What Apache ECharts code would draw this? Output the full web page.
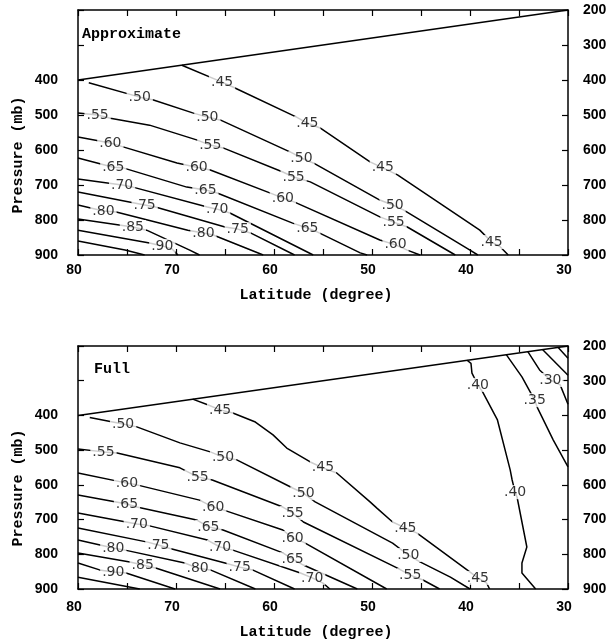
<!DOCTYPE html>
<html><head><meta charset="utf-8">
<script src="https://cdn.jsdelivr.net/npm/echarts@6/dist/echarts.min.js"></script>
<style>html,body{margin:0;padding:0;background:#fff}#c{width:611px;height:642px}</style>
</head><body><div id="c"></div>
<script>
// Tick labels
const xTickLabels = [80, 70, 60, 50, 40, 30];
const yLeftTickLabels = [400, 500, 600, 700, 800, 900];
const yRightTickLabels = [200, 300, 400, 500, 600, 700, 800, 900];
const panelTitles = ['Approximate', 'Full'];

// Upper boundary (tropopause) [latitude, pressure]
const tropopause = [[80, 400], [30, 200]];

// ---- Approximate panel contours [latitude, pressure]
const ap45 = [[69.4,358],[65.3,406],[64.2,420],[57.7,506],[56.6,523],[55.3,537],[50.2,634],[48.9,651],[47.4,671],[39.0,829],[37.8,863],[36.9,877],[36.1,900]];
const ap50 = [[78.9,408],[73.7,449],[72.3,457],[68.3,494],[66.8,506],[65.5,514],[58.1,609],[57.2,623],[56.0,637],[49.2,743],[47.9,757],[46.8,771],[40.0,886],[39.2,900]];
const ap55 = [[80,494],[78.0,500],[76.7,509],[72.7,529],[67.9,571],[66.5,586],[65.2,594],[59.1,663],[58.0,677],[56.3,691],[49.2,791],[47.8,806],[46.4,820],[41.5,900]];
const ap60 = [[80,563],[76.7,580],[75.4,591],[69.9,637],[67.9,649],[66.5,657],[60.1,726],[59.1,737],[57.9,749],[49.2,857],[47.6,871],[46.4,886],[45.1,900]];
const ap65 = [[80,623],[76.4,649],[75.4,651],[68.9,706],[67.0,714],[65.8,723],[58.1,809],[56.6,823],[55.6,834],[51.2,894],[50.5,900]];
const ap70 = [[80,683],[75.5,700],[74.4,706],[66.8,763],[65.8,769],[64.5,780],[56.0,900]];
const ap75 = [[80,720],[73.2,757],[72.1,763],[65.0,820],[63.7,826],[62.4,837],[57.9,900]];
const ap80 = [[80,757],[77.4,774],[76.1,777],[68.8,829],[67.2,837],[66.2,843],[61.1,900]];
const ap85 = [[80,797],[74.4,820],[73.0,829],[68.6,886],[67.6,900]];
const ap90 = [[80,829],[72.7,866],[71.4,874],[70.4,883],[69.8,900]];
const ap95 = [[80,860],[75.2,886],[73.2,900]];
const approxLabels = [
  [65.3,406,'.45'],[56.6,523,'.45'],[48.9,651,'.45'],[37.8,863,'.45'],
  [73.7,449,'.50'],[66.8,506,'.50'],[57.2,623,'.50'],[47.9,757,'.50'],
  [78.0,500,'.55'],[66.5,586,'.55'],[58.0,677,'.55'],[47.8,806,'.55'],
  [76.7,580,'.60'],[67.9,649,'.60'],[59.1,737,'.60'],[47.6,871,'.60'],
  [76.4,649,'.65'],[67.0,714,'.65'],[56.6,823,'.65'],
  [75.5,700,'.70'],[65.8,769,'.70'],
  [73.2,757,'.75'],[63.7,826,'.75'],
  [77.4,774,'.80'],[67.2,837,'.80'],
  [74.4,820,'.85'],
  [71.4,874,'.90']
];

// ---- Full panel contours [latitude, pressure]
const fu45 = [[68.3,353],[66.7,370],[65.5,384],[64.2,393],[61.9,419],[60.1,456],[58.7,494],[56.3,534],[55.0,551],[53.6,566],[50.2,649],[49.5,667],[47.9,707],[46.6,724],[45.4,739],[40.3,845],[39.2,868],[38.3,883],[38.0,900]];
const fu50 = [[78.8,406],[75.4,425],[74.0,433],[69.6,479],[66.5,505],[65.2,520],[63.8,528],[58.1,609],[57.0,624],[55.8,649],[47.9,768],[46.3,802],[45.1,822],[42.0,866],[40.0,900]];
const fu55 = [[80,497],[77.4,505],[76.0,508],[69.6,551],[67.8,577],[66.3,586],[59.1,664],[58.1,681],[57.0,707],[47.4,840],[46.1,860],[44.8,874],[43.1,900]];
const fu60 = [[80,566],[75.0,595],[74.0,600],[67.6,644],[66.2,664],[65.2,672],[59.1,730],[58.1,753],[57.0,765],[48.5,900]];
const fu65 = [[80,629],[75.0,655],[74.0,664],[67.9,701],[66.7,721],[65.2,730],[59.1,796],[58.1,814],[57.0,831],[51.5,900]];
const fu70 = [[80,681],[74.0,713],[73.0,716],[66.8,759],[65.5,779],[64.2,788],[57.3,854],[56.1,868],[55.0,883],[54.3,900]];
const fu75 = [[80,724],[72.9,765],[71.8,773],[70.8,782],[65.0,825],[63.5,837],[62.2,845],[57.9,900]];
const fu80 = [[80,759],[76.4,782],[75.2,788],[69.1,825],[67.8,840],[66.5,845],[61.9,900]];
const fu85 = [[80,796],[74.7,822],[73.4,831],[72.0,840],[65.5,900]];
const fu90 = [[80,825],[77.8,845],[76.4,851],[75.1,854],[70.1,900]];
const fu95 = [[80,866],[73.7,900]];
const fu40 = [[40.3,241],[39.9,250],[39.8,278],[39.2,312],[38.7,333],[37.2,413],[35.9,557],[35.7,586],[35.4,621],[35.2,635],[34.2,779],[34.7,825],[34.7,854],[33.3,900]];
const fu35 = [[36.3,225],[34.7,289],[33.4,356],[33.1,379],[31.5,471],[30.0,548]];
const fu30 = [[34.1,216],[32.9,269],[31.8,298],[30.8,312],[30.0,368]];
const fu25 = [[32.6,210],[30.0,284]];
const fu20 = [[31.0,204],[30.0,235]];
const fullLabels = [
  [65.5,384,'.45'],[55.0,551,'.45'],[46.6,724,'.45'],[39.2,868,'.45'],
  [75.4,425,'.50'],[65.2,520,'.50'],[57.0,624,'.50'],[46.3,802,'.50'],
  [77.4,505,'.55'],[67.8,577,'.55'],[58.1,681,'.55'],[46.1,860,'.55'],
  [75.0,595,'.60'],[66.2,664,'.60'],[58.1,753,'.60'],
  [75.0,655,'.65'],[66.7,721,'.65'],[58.1,814,'.65'],
  [74.0,713,'.70'],[65.5,779,'.70'],[56.1,868,'.70'],
  [71.8,773,'.75'],[63.5,837,'.75'],
  [76.4,782,'.80'],[67.8,840,'.80'],
  [73.4,831,'.85'],
  [76.4,851,'.90'],
  [39.2,312,'.40'],[35.4,621,'.40'],
  [33.4,356,'.35'],
  [31.8,298,'.30']
];

const approxLines = [tropopause, ap45, ap50, ap55, ap60, ap65, ap70, ap75, ap80, ap85, ap90, ap95];
const fullLines = [tropopause, fu45, fu50, fu55, fu60, fu65, fu70, fu75, fu80, fu85, fu90, fu95, fu40, fu35, fu30, fu25, fu20];

const chart = echarts.init(document.getElementById('c'), null, {renderer: 'canvas'});
const BLK = '#000';
const tickFont = {color: BLK, fontSize: 14, fontWeight: 'bold', fontFamily: 'Liberation Sans'};

const grids = [
  {left: 78, right: 43, top: 10, height: 245},
  {left: 78, right: 43, top: 346, height: 243}
];

const xAxes = [], yAxes = [];
grids.forEach((g, i) => {
  xAxes.push({
    gridIndex: i, type: 'value', min: 30, max: 80, interval: 5, inverse: true, position: 'bottom',
    axisLine: {show: true, onZero: false, lineStyle: {color: BLK, width: 1.5}},
    axisTick: {show: true, inside: true, length: 6, lineStyle: {color: BLK, width: 1.2}},
    splitLine: {show: false},
    axisLabel: Object.assign({formatter: v => xTickLabels.includes(v) ? String(v) : '', margin: i === 0 ? 8 : 11, padding: [0, 8, 0, 0]}, tickFont)
  });
  xAxes.push({
    gridIndex: i, type: 'value', min: 30, max: 80, interval: 5, inverse: true, position: 'top',
    axisLine: {show: true, onZero: false, lineStyle: {color: BLK, width: 1.5}},
    axisTick: {show: true, inside: true, length: 6, lineStyle: {color: BLK, width: 1.2}},
    splitLine: {show: false}, axisLabel: {show: false}
  });
  yAxes.push({
    gridIndex: i, type: 'value', min: 200, max: 900, interval: 100, inverse: true, position: 'left',
    axisLine: {show: true, onZero: false, lineStyle: {color: BLK, width: 1.5}},
    axisTick: {show: true, inside: true, length: 6, lineStyle: {color: BLK, width: 1.2}},
    splitLine: {show: false},
    axisLabel: Object.assign({formatter: v => yLeftTickLabels.includes(v) ? String(v) : '', margin: 20}, tickFont)
  });
  yAxes.push({
    gridIndex: i, type: 'value', min: 200, max: 900, interval: 100, inverse: true, position: 'right',
    axisLine: {show: true, onZero: false, lineStyle: {color: BLK, width: 1.5}},
    axisTick: {show: true, inside: true, length: 6, lineStyle: {color: BLK, width: 1.2}},
    splitLine: {show: false},
    axisLabel: Object.assign({formatter: v => yRightTickLabels.includes(v) ? String(v) : '', margin: 15}, tickFont)
  });
});

const series = [];
function addLines(lines, gi) {
  lines.forEach(d => series.push({
    type: 'line', xAxisIndex: gi * 2, yAxisIndex: gi * 2, data: d, symbol: 'none', silent: true,
    lineStyle: {color: BLK, width: 1.5}, z: 2, animation: false
  }));
}
function addLabels(labels, gi) {
  series.push({
    type: 'scatter', xAxisIndex: gi * 2, yAxisIndex: gi * 2, z: 5, silent: true, animation: false,
    symbolSize: 2, itemStyle: {color: 'rgba(255,255,255,0)'},
    data: labels.map(l => ({value: [l[0], l[1]], name: l[2]})),
    label: {show: true, position: 'inside', formatter: p => p.name, color: BLK, fontSize: 14,
      fontFamily: 'DejaVu Sans', backgroundColor: '#fff', padding: [0, 2]},
    labelLayout: {hideOverlap: false}
  });
}
addLines(approxLines, 0);
addLines(fullLines, 1);
addLabels(approxLabels, 0);
addLabels(fullLabels, 1);

const titleFont = 'bold 15px "Liberation Mono"';
const graphics = [
  {type: 'text', left: 82, top: 27, style: {text: panelTitles[0], font: titleFont, fill: BLK}},
  {type: 'text', left: 94, top: 362, style: {text: panelTitles[1], font: titleFont, fill: BLK}},
  {type: 'text', x: 18, y: 155, rotation: Math.PI / 2, style: {text: 'Pressure (mb)', font: titleFont, fill: BLK, textAlign: 'center', textVerticalAlign: 'middle'}},
  {type: 'text', x: 18, y: 488, rotation: Math.PI / 2, style: {text: 'Pressure (mb)', font: titleFont, fill: BLK, textAlign: 'center', textVerticalAlign: 'middle'}},
  {type: 'text', x: 316, y: 295, style: {text: 'Latitude (degree)', font: titleFont, fill: BLK, textAlign: 'center', textVerticalAlign: 'middle'}},
  {type: 'text', x: 316, y: 632, style: {text: 'Latitude (degree)', font: titleFont, fill: BLK, textAlign: 'center', textVerticalAlign: 'middle'}}
];

chart.setOption({
  animation: false,
  backgroundColor: '#fff',
  grid: grids,
  xAxis: xAxes,
  yAxis: yAxes,
  series: series,
  graphic: graphics
});
</script></body></html>
